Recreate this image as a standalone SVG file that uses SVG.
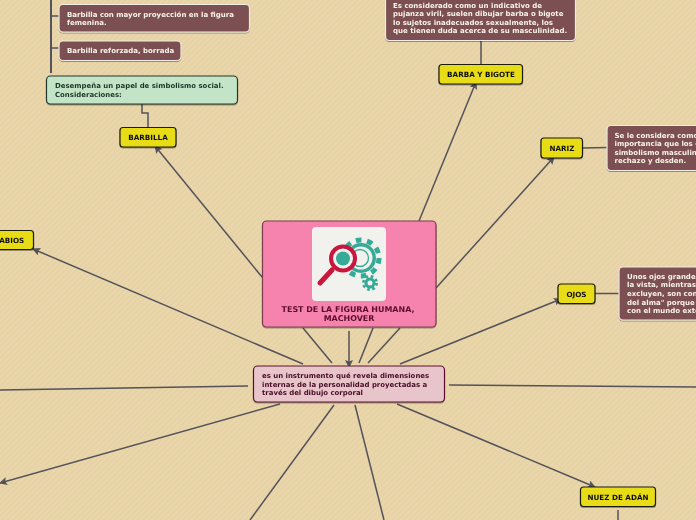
<svg xmlns="http://www.w3.org/2000/svg" width="696" height="520" viewBox="0 0 696 520">
<style>
text{font-family:"DejaVu Sans",Verdana,sans-serif;font-weight:700}
.l{fill:none;stroke:#54525a;stroke-width:1.5}
.y rect{fill:#e8dc17;stroke:#1c1c10;stroke-width:1.2}
.y text{font-size:7.2px;fill:#111;text-anchor:middle}
.b rect{fill:#7b5052;stroke:#f2ece6;stroke-width:1.2}
.b text{font-size:7px;fill:#fbf3ea}
</style>
<defs>
<pattern id="bg" width="4" height="4" patternUnits="userSpaceOnUse" patternTransform="rotate(45)"><rect width="4" height="4" fill="#e9d6ab"/><rect width="2" height="4" fill="#e6d2a5"/></pattern>
<marker id="a" markerWidth="10" markerHeight="10" refX="7" refY="4" orient="auto" markerUnits="userSpaceOnUse"><path d="M0 0L8 4L0 8L1.5 4Z" fill="#54525a"/></marker>
<filter id="s" x="-5%" y="-10%" width="110%" height="125%"><feDropShadow dx="0" dy="1" stdDeviation="0.7" flood-color="#000" flood-opacity=".35"/></filter>
</defs>
<rect width="696" height="520" fill="url(#bg)"/>
<g id="connectors">
<path class="l" d="M51 0V73" style="stroke-width:2"/>
<path class="l" d="M51 16H59M51 48H59"/>
<path class="l" d="M142 104V113H148V128"/>
<path class="l" d="M481 41V65"/>
<path class="l" d="M583 148L607 147.500"/>
<path class="l" d="M595 293.500H619"/>
<path class="l" d="M618 510V520"/>
<path class="l" marker-end="url(#a)" d="M419 221L476 82"/>
<path class="l" marker-end="url(#a)" d="M436 288L554 157"/>
<path class="l" marker-end="url(#a)" d="M400 364L561 299"/>
<path class="l" marker-end="url(#a)" d="M397 404L595 487"/>
<path class="l" d="M449 385L696 387"/>
<path class="l" d="M248 386L0 390"/>
<path class="l" marker-end="url(#a)" d="M280 404L0 483"/>
<path class="l" d="M334 405L250 520"/>
<path class="l" d="M355 405L384 520"/>
<path class="l" marker-end="url(#a)" d="M303 364L33 249"/>
<path class="l" marker-end="url(#a)" d="M262 277L155 146"/>
<path class="l" d="M303 328L332 363"/>
<path class="l" marker-end="url(#a)" d="M349 331V367"/>
<path class="l" d="M373 328L359 363"/>
<path class="l" d="M400 328L368 363"/>
</g>
<g id="main" filter="url(#s)">
<rect x="262.500" y="221" width="173.500" height="106" rx="4" fill="#f583ad" stroke="#7b3a50" stroke-width="1.200"/>
<rect x="312" y="227" width="74" height="74" rx="4" fill="#f1f1ed"/>
<circle cx="361" cy="258" r="15" fill="#36aa96"/>
<circle cx="361" cy="258" r="18" fill="none" stroke="#36aa96" stroke-width="5" stroke-dasharray="5.650 5.650"/>
<circle cx="361" cy="258" r="11.500" fill="#f1f1ed"/>
<circle cx="360" cy="258" r="8.500" fill="none" stroke="#36aa96" stroke-width="1.300"/>
<circle cx="370" cy="283" r="5.500" fill="#36aa96"/>
<circle cx="370" cy="283" r="6.500" fill="none" stroke="#36aa96" stroke-width="3" stroke-dasharray="2.550 2.550"/>
<circle cx="370" cy="283" r="2.500" fill="#f1f1ed"/>
<path d="M332 270L320 283" stroke="#c8143c" stroke-width="5" stroke-linecap="round"/>
<circle cx="343" cy="258.500" r="12" fill="#f1f1ed" stroke="#c8143c" stroke-width="4"/>
<circle cx="343" cy="258.500" r="7" fill="#36aa96"/>
<text x="348" y="312" font-size="7.950" fill="#5c0f2a" text-anchor="middle">TEST DE LA FIGURA HUMANA,</text>
<text x="349" y="321" font-size="7.950" fill="#5c0f2a" text-anchor="middle">MACHOVER</text>
</g>
<g id="desc" filter="url(#s)">
<rect x="253.500" y="366" width="191" height="36" rx="4" fill="#e7c5ca" stroke="#5c1030" stroke-width="1.200"/>
<text font-size="6.950" fill="#4a0c28"><tspan x="262" y="378">es un instrumento qué revela dimensiones</tspan><tspan x="262" y="387">internas de la personalidad proyectadas a</tspan><tspan x="262" y="395">través del dibujo corporal</tspan></text>
</g>
<g id="barbilla1" class="b" filter="url(#s)">
<rect x="59" y="4.500" width="190.500" height="27.500" rx="4"/>
<text><tspan x="67" y="17">Barbilla con mayor proyección en la figura</tspan><tspan x="67" y="25">femenina.</tspan></text>
</g>
<g id="barbilla2" class="b" filter="url(#s)">
<rect x="59" y="41" width="122" height="19.500" rx="4"/>
<text x="67" y="53">Barbilla reforzada, borrada</text>
</g>
<g id="simbolismo" filter="url(#s)">
<rect x="46.500" y="76" width="191" height="28" rx="4" fill="#c4e4c8" stroke="#23392b" stroke-width="1.200"/>
<text font-size="6.950" fill="#1f3527"><tspan x="55" y="88">Desempeña un papel de simbolismo social.</tspan><tspan x="55" y="97">Consideraciones:</tspan></text>
</g>
<g id="barbilla" class="y" filter="url(#s)"><rect x="120" y="127.500" width="56" height="19.500" rx="3"/><text x="148" y="140">BARBILLA</text></g>
<g id="barba-texto" class="b" filter="url(#s)">
<rect x="385.500" y="-20" width="190" height="60.500" rx="4"/>
<text><tspan x="393" y="8">Es considerado como un indicativo de</tspan><tspan x="393" y="16">pujanza viril, suelen dibujar barba o bigote</tspan><tspan x="393" y="25">lo sujetos inadecuados sexualmente, los</tspan><tspan x="393" y="33">que tienen duda acerca de su masculinidad.</tspan></text>
</g>
<g id="barba" class="y" filter="url(#s)"><rect x="439" y="64.500" width="83.500" height="19.500" rx="3"/><text x="481" y="77">BARBA Y BIGOTE</text></g>
<g id="nariz" class="y" filter="url(#s)"><rect x="541" y="138" width="41.500" height="20" rx="3"/><text x="562" y="151">NARIZ</text></g>
<g id="nariz-texto" class="b" filter="url(#s)">
<rect x="607" y="125.500" width="110" height="45" rx="4"/>
<text><tspan x="614.500" y="138">Se le considera como</tspan><tspan x="614.500" y="146">importancia que los o</tspan><tspan x="614.500" y="155">simbolismo masculin</tspan><tspan x="614.500" y="163">rechazo y desden.</tspan></text>
</g>
<g id="labios" class="y" filter="url(#s)"><rect x="-20" y="230.500" width="53.500" height="19" rx="3"/><text x="9.500" y="243">LABIOS</text></g>
<g id="ojos" class="y" filter="url(#s)"><rect x="558" y="284" width="37" height="19.500" rx="3"/><text x="576.500" y="296.500">OJOS</text></g>
<g id="ojos-texto" class="b" filter="url(#s)">
<rect x="619" y="267" width="110" height="53" rx="4"/>
<text><tspan x="627" y="279">Unos ojos grandes</tspan><tspan x="627" y="287">la vista, mientras</tspan><tspan x="627" y="296">excluyen, son con</tspan><tspan x="627" y="305">del alma" porque</tspan><tspan x="627" y="313">con el mundo exte</tspan></text>
</g>
<g id="nuez" class="y" filter="url(#s)"><rect x="580.500" y="487" width="75" height="19.500" rx="3"/><text x="618" y="499.500">NUEZ DE ADÁN</text></g>
</svg>
